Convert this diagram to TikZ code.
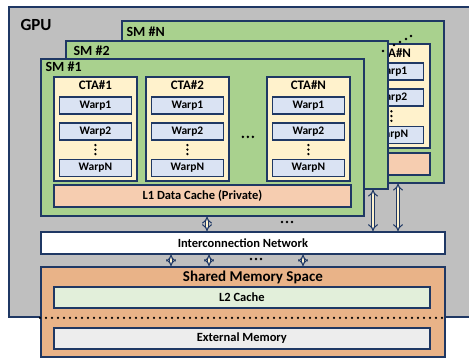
\documentclass[tikz,border=0pt]{standalone}
\usepackage{fontspec}
\setmainfont{Carlito}
\usetikzlibrary{positioning,calc,arrows.meta}

\definecolor{navy}{HTML}{1F3864}
\definecolor{gpugray}{HTML}{BFBFBF}
\definecolor{smgreen}{HTML}{A9D18E}
\definecolor{ctayellow}{HTML}{FFF2CC}
\definecolor{warpblue}{HTML}{DAE3F3}
\definecolor{lonefill}{HTML}{F6CDB0}
\definecolor{shmemfill}{HTML}{E9B388}
\definecolor{ltwofill}{HTML}{E2EFDA}
\definecolor{extfill}{HTML}{EDEDED}

\tikzset{
  blk/.style={draw=navy, line width=1.8pt, inner sep=0pt, anchor=north west},
  gpubox/.style={blk, fill=gpugray},
  smbox/.style={blk, fill=smgreen},
  ctabox/.style={blk, fill=ctayellow, minimum width=83, minimum height=104},
  warpbox/.style={draw=navy, line width=1.8pt, fill=warpblue, inner sep=0pt,
    minimum width=72, minimum height=17, font=\bfseries\fontsize{11.5}{13}\selectfont},
  cachebox/.style={blk, minimum height=22},
  ctalbl/.style={font=\bfseries\fontsize{13}{15}\selectfont},
  smlbl/.style={font=\bfseries\fontsize{14}{16}\selectfont, anchor=west},
  boxlbl/.style={font=\bfseries\fontsize{12.5}{14}\selectfont},
  dblarrow/.style={draw=navy, line width=1pt, double=ctayellow, double distance=2.4pt,
    {Implies}-{Implies}},
  sepline/.style={line width=2.4pt, dash pattern=on 0pt off 6pt, line cap=round}
}

\begin{document}
\begin{tikzpicture}[x=1pt,y=-1pt]
 \clip (0,0) rectangle (469,358);
 % GPU
 \node[gpubox, minimum width=475, minimum height=310] (gpu) at (8,6) {};
 \node[anchor=west, font=\bfseries\fontsize{17}{19}\selectfont] (gpulbl) at (17,25) {GPU};
 % SM #N (back)
 \node[smbox, minimum width=322, minimum height=162] (smN) at (121,20) {};
 \node[smlbl] (smNlbl) at (123,32) {SM \#N};
 \node[ctabox, minimum width=77] (ctaNN) at (352,43) {};
 \node[ctalbl] at ($(ctaNN.north)+(2,10)$) {CTA\#N};
 \node[warpbox, minimum width=64, below=19pt of ctaNN.north] (nn1) {Warp1};
 \node[warpbox, minimum width=64, below=7pt of nn1] (nn2) {Warp2};
 \node[warpbox, minimum width=64, below=19pt of nn2] (nn3) {WarpN};
 \foreach \p in {0.25,0.5,0.75}
  \fill ($(nn2.south)!\p!(nn3.north)$) circle (1.3pt);
 \node[cachebox, fill=lonefill, minimum width=289] (lonN) at (140,152) {};
 % SM #2
 \node[smbox, minimum width=322, minimum height=148] (sm2) at (65,40) {};
 \node[smlbl] (sm2lbl) at (70,51) {SM \#2};
 % SM #1 (front)
 \node[smbox, minimum width=323, minimum height=157] (sm1) at (40,58) {};
 \node[smlbl] (sm1lbl) at (42,67) {SM \#1};
 \foreach \x/\n/\t in {53/a/CTA\#1,145/b/CTA\#2,266/c/CTA\#N}{
  \node[ctabox] (cta\n) at (\x,76) {};
  \node[ctalbl] at ($(cta\n.north)+(0,9)$) {\t};
  \node[warpbox, below=20pt of cta\n.north] (\n1) {Warp1};
  \node[warpbox, below=7pt of \n1] (\n2) {Warp2};
  \node[warpbox, below=18pt of \n2] (\n3) {WarpN};
  \foreach \p in {0.25,0.5,0.75}
   \fill ($(\n2.south)!\p!(\n3.north)$) circle (1.3pt);
 }
 \foreach \d in {-5,0,5}
  \fill ($(ctab.east)!0.5!(ctac.west)+(\d,8)$) circle (1.4pt);
 \node[cachebox, fill=lonefill, minimum width=297] (lone) at (53,184) {};
 \node[boxlbl] at (lone) {L1 Data Cache (Private)};
 % more SMs
 \foreach \x/\y in {383/51,394/45,400/42,406/39,411/36}
  \fill (\x,\y) circle (1.4pt);
 % interconnection network
 \node[blk, fill=white, minimum width=404, minimum height=22] (icn) at (40,231) {};
 \node[boxlbl] at (icn) {Interconnection Network};
 % shared memory space
 \node[blk, fill=shmemfill, minimum width=404, minimum height=90] (shm) at (40,266) {};
 \node[font=\bfseries\fontsize{15}{17}\selectfont] at ($(shm.north)+(10,11)$) {Shared Memory Space};
 \node[cachebox, fill=ltwofill, minimum width=376, minimum height=21] (ltwo) at (53,286) {};
 \node[boxlbl] at (ltwo) {L2 Cache};
 \node[cachebox, fill=extfill, minimum width=376, minimum height=21] (ext) at (53,327) {};
 \node[boxlbl] at (ext) {External Memory};
 \draw[sepline] ($(ltwo.south -| shm.west)!0.5!(ext.north -| shm.west)$)
   -- ($(ltwo.south -| shm.east)!0.5!(ext.north -| shm.east)$);
 % links
 \coordinate (ka) at (207,0);
 \coordinate (kb) at (373,0);
 \coordinate (kc) at (398,0);
 \coordinate (kd) at (171,0);
 \coordinate (ke) at (209,0);
 \coordinate (kf) at (303,0);
 \draw[dblarrow] (sm1.south -| ka) -- (icn.north -| ka);
 \draw[dblarrow] (sm2.south -| kb) -- (icn.north -| kb);
 \draw[dblarrow] (smN.south -| kc) -- (icn.north -| kc);
 \draw[dblarrow] (icn.south -| kd) -- (shm.north -| kd);
 \draw[dblarrow] (icn.south -| ke) -- (shm.north -| ke);
 \draw[dblarrow] (icn.south -| kf) -- (shm.north -| kf);
 \foreach \d in {-5,0,5}{
  \fill (287+\d,222) circle (1.4pt);
  \fill (256+\d,259) circle (1.4pt);
 }
\end{tikzpicture}
\end{document}
